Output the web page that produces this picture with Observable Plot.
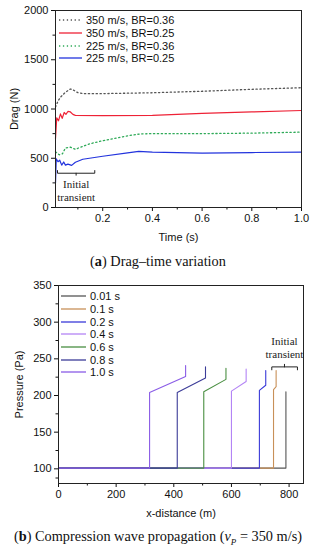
<!DOCTYPE html>
<html>
<head>
<meta charset="utf-8">
<script src="https://cdn.jsdelivr.net/npm/d3@7"></script>
<script src="https://cdn.jsdelivr.net/npm/@observablehq/plot@0.6"></script>
<style>
  body { margin: 0; background: #fff; width: 316px; height: 550px; position: relative; overflow: hidden; }
  .abs { position: absolute; }
  .cap { position: absolute; left: 0; width: 316px; text-align: center; font-family: "Liberation Serif", "Times New Roman", serif; font-size: 14.3px; line-height: 17px; color: #111; white-space: nowrap; }
  .leg { position: absolute; font-family: "Liberation Sans", Arial, sans-serif; font-size: 11px; color: #111; line-height: 12px; white-space: nowrap; }
  .leg div { height: 12.7px; display: flex; align-items: center; }
  .leg svg { margin-right: 4px; }
</style>
</head>
<body>
<div id="top" class="abs" style="left:0;top:0"></div>
<div class="cap" style="top:253px">(<b>a</b>) Drag–time variation</div>
<div id="bot" class="abs" style="left:0;top:275px"></div>
<div class="cap" style="top:528px">(<b>b</b>) Compression wave propagation (<i>v<sub style="font-size:9px">P</sub></i> = 350 m/s)</div>
<div id="legTop" class="leg" style="left:59px;top:14px"></div>
<div id="legBot" class="leg" style="left:61px;top:290px"></div>
<script>
// ---------- (a) Drag–time data ----------
const dragSeries = ["350 m/s, BR=0.36", "350 m/s, BR=0.25", "225 m/s, BR=0.36", "225 m/s, BR=0.25"];
const dragColors = ["#555555", "#ee2236", "#2faa58", "#2233dd"];
const dragDash = ["1.3,2.6", null, "1.3,2.6", null];

const t350_036 = [0.01, 0.02, 0.03, 0.05, 0.07, 0.08, 0.10, 0.12, 0.20, 0.40, 0.60, 0.80, 1.00];
const d350_036 = [1020, 1080, 1120, 1170, 1203, 1195, 1166, 1156, 1156, 1165, 1180, 1200, 1216];

const t350_025 = [0.01, 0.015, 0.022, 0.03, 0.037, 0.045, 0.052, 0.06, 0.07, 0.08, 0.09, 0.20, 0.40, 0.60, 0.80, 1.00];
const d350_025 = [700, 910, 880, 950, 905, 965, 945, 975, 970, 945, 935, 932, 935, 955, 970, 985];

const t225_036 = [0.01, 0.025, 0.038, 0.05, 0.07, 0.09, 0.11, 0.15, 0.20, 0.30, 0.35, 0.40, 0.60, 0.80, 1.00];
const d225_036 = [565, 535, 545, 605, 612, 590, 612, 648, 678, 728, 747, 750, 750, 755, 765];

const t225_025 = [0.01, 0.013, 0.02, 0.027, 0.035, 0.043, 0.05, 0.06, 0.075, 0.09, 0.12, 0.20, 0.30, 0.345, 0.40, 0.60, 0.80, 1.00];
const d225_025 = [250, 495, 465, 480, 430, 462, 430, 440, 428, 460, 490, 520, 555, 570, 562, 553, 558, 562];

const dragT = [t350_036, t350_025, t225_036, t225_025];
const dragD = [d350_036, d350_025, d225_036, d225_025];

const dragXTicks = [0.2, 0.4, 0.6, 0.8, 1.0];
const dragXMinor = [0.1, 0.3, 0.5, 0.7, 0.9];
const dragYTicks = [0, 500, 1000, 1500, 2000];
const dragYMinor = [250, 750, 1250, 1750];

// annotation (a)
const annATextX = [0.093, 0.093];
const annATextY = [232, 100];
const annAText = ["Initial", "transient"];
const annABracketX = [0.018, 0.018, 0.168, 0.168];
const annABracketY = [375, 348, 348, 375];
const annAMidX = [0.093, 0.093];
const annAMidY = [348, 328];

// ---------- (b) Pressure wave data ----------
const waveTimes = ["0.01 s", "0.1 s", "0.2 s", "0.4 s", "0.6 s", "0.8 s", "1.0 s"];
const waveColors = ["#555555", "#c89058", "#3a3ad8", "#b384f5", "#4a8f42", "#3c3c98", "#8a5ce6"];
const waveX = [
  [0, 789, 789],
  [0, 746, 746, 755, 755],
  [0, 697, 697, 719, 719],
  [0, 600, 600, 651, 651],
  [0, 504, 504, 581, 581],
  [0, 412, 412, 510, 510],
  [0, 316, 316, 441, 441]
];
const waveP = [
  [101, 101, 205],
  [101, 101, 208, 212, 234],
  [101, 101, 207, 214, 234],
  [101, 101, 206, 219, 236],
  [101, 101, 205, 222, 237],
  [101, 101, 204, 224, 239],
  [101, 101, 204, 226, 241]
];
const waveXTicks = [0, 200, 400, 600, 800];
const waveXMinor = [100, 300, 500, 700];
const waveYTicks = [100, 150, 200, 250, 300, 350];
const waveYMinor = [87.5, 125, 175, 225, 275, 325];

// annotation (b)
const annBTextX = [784, 784];
const annBTextY = [274, 256];
const annBText = ["Initial", "transient"];
const annBBracketX = [740, 740, 829, 829];
const annBBracketY = [235, 239, 239, 235];
const annBMidX = [784, 784];
const annBMidY = [239, 242.5];

// ---------- build tables ----------
const dragRows = dragSeries.map((s, i) => dragT[i].map((t, j) => ({s, t, d: dragD[i][j]})));
const waveRows = waveTimes.map((s, i) => waveX[i].map((x, j) => ({s, x, p: waveP[i][j]})));
const pts = (xs, ys) => xs.map((x, i) => ({x, y: ys[i]}));
const serif = "Liberation Serif, Times New Roman, serif";

const topPlot = Plot.plot({
  width: 316, height: 250,
  marginTop: 10, marginLeft: 55, marginRight: 15, marginBottom: 43,
  style: {fontFamily: "Liberation Sans, Arial, sans-serif", fontSize: "11px", color: "#111", background: "transparent"},
  x: {domain: [0.01, 1.0]},
  y: {domain: [0, 2000]},
  marks: [
    Plot.axisX({ticks: dragXTicks, tickFormat: d3.format(".1f"), tickSize: 4, tickPadding: 3, label: "Time (s)", labelAnchor: "center", labelOffset: 33, labelArrow: "none"}),
    Plot.axisX({ticks: dragXMinor, tickFormat: () => "", tickSize: 2.5, label: null}),
    Plot.axisY({ticks: dragYTicks, tickFormat: d => String(d), tickSize: 4, tickPadding: 3, label: "Drag (N)", labelAnchor: "center", labelOffset: 45, labelArrow: "none"}),
    Plot.axisY({ticks: dragYMinor, tickFormat: () => "", tickSize: 2.5, label: null}),
    ...dragRows.map((rows, i) => Plot.line(rows, {x: "t", y: "d", stroke: dragColors[i], strokeWidth: dragDash[i] ? 1.3 : 1.2, strokeDasharray: dragDash[i] || undefined})),
    Plot.line(pts(annABracketX, annABracketY), {x: "x", y: "y", stroke: "#222", strokeWidth: 1}),
    Plot.line(pts(annAMidX, annAMidY), {x: "x", y: "y", stroke: "#222", strokeWidth: 1}),
    Plot.text(annAText, {x: (d, i) => annATextX[i], y: (d, i) => annATextY[i], text: d => d, fontFamily: serif, fontSize: 11, fill: "#222"}),
    Plot.frame({stroke: "#222", strokeWidth: 1})
  ]
});
document.getElementById("top").appendChild(topPlot);

const botPlot = Plot.plot({
  width: 316, height: 250,
  marginTop: 10, marginLeft: 58, marginRight: 13, marginBottom: 42,
  style: {fontFamily: "Liberation Sans, Arial, sans-serif", fontSize: "11px", color: "#111", background: "transparent"},
  x: {domain: [0, 850]},
  y: {domain: [80, 350]},
  marks: [
    Plot.axisX({ticks: waveXTicks, tickFormat: d => String(d), tickSize: 4, tickPadding: 3, label: "x-distance (m)", labelAnchor: "center", labelOffset: 33, labelArrow: "none"}),
    Plot.axisX({ticks: waveXMinor, tickFormat: () => "", tickSize: 2.5, label: null}),
    Plot.axisY({ticks: waveYTicks, tickFormat: d => String(d), tickSize: 4, tickPadding: 3, label: "Pressure (Pa)", labelAnchor: "center", labelOffset: 43, labelArrow: "none"}),
    Plot.axisY({ticks: waveYMinor, tickFormat: () => "", tickSize: 2.5, label: null}),
    ...waveRows.map((rows, i) => Plot.line(rows, {x: "x", y: "p", stroke: waveColors[i], strokeWidth: 1.1})),
    Plot.line(pts(annBBracketX, annBBracketY), {x: "x", y: "y", stroke: "#222", strokeWidth: 1}),
    Plot.line(pts(annBMidX, annBMidY), {x: "x", y: "y", stroke: "#222", strokeWidth: 1}),
    Plot.text(annBText, {x: (d, i) => annBTextX[i], y: (d, i) => annBTextY[i], text: d => d, fontFamily: serif, fontSize: 11, fill: "#222"}),
    Plot.frame({stroke: "#222", strokeWidth: 1})
  ]
});
document.getElementById("bot").appendChild(botPlot);

// ---------- legends ----------
function legend(el, names, colors, dashes, w) {
  names.forEach((n, i) => {
    const row = document.createElement("div");
    const dash = dashes && dashes[i] ? `stroke-dasharray="${dashes[i]}"` : "";
    row.innerHTML = `<svg width="${w}" height="4"><line x1="0" y1="2" x2="${w}" y2="2" stroke="${colors[i]}" stroke-width="1.3" ${dash}/></svg><span>${n}</span>`;
    el.appendChild(row);
  });
}
legend(document.getElementById("legTop"), dragSeries, dragColors, dragDash, 23);
legend(document.getElementById("legBot"), waveTimes, waveColors, null, 25);
</script>
</body>
</html>
